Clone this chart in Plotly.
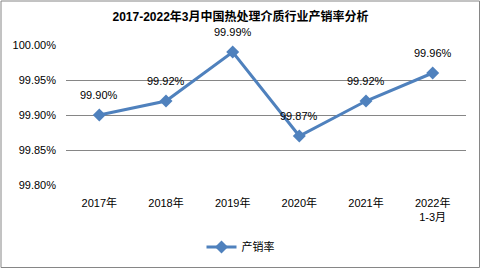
import plotly.graph_objects as go

categories = ["2017年", "2018年", "2019年", "2020年", "2021年", "2022年<br>1-3月"]
values = [99.90, 99.92, 99.99, 99.87, 99.92, 99.96]
labels = ["99.90%", "99.92%", "99.99%", "99.87%", "99.92%", "99.96%"]
tick_vals = [99.80, 99.85, 99.90, 99.95, 100.00]
tick_text = ["99.80%", "99.85%", "99.90%", "99.95%", "100.00%"]

W, H = 481, 269
ml, mr, mt, mb = 66, 15, 45, 84
color = "#4F81BD"
font_fam = "Liberation Sans, Noto Sans CJK SC, sans-serif"

fig = go.Figure()
fig.add_trace(go.Scatter(
    x=list(range(len(categories))), y=values, mode="lines+markers",
    name="产销率", line=dict(color=color, width=3),
    marker=dict(symbol="diamond", size=10, color=color),
))
for i, (v, t) in enumerate(zip(values, labels)):
    fig.add_annotation(x=i, y=v, text=t, showarrow=False, yshift=20,
                       font=dict(size=11, color="#000000", family=font_fam))

pw, ph = W - ml - mr, H - mt - mb
fig.add_shape(type="rect", xref="paper", yref="paper",
              x0=(1 - ml) / pw, x1=(W - 1.5 - ml) / pw,
              y0=-(mb - 1.5) / ph, y1=1 + (mt - 1) / ph,
              line=dict(color="#868686", width=1), fillcolor="rgba(0,0,0,0)")

fig.update_layout(
    width=W, height=H,
    margin=dict(l=ml, r=mr, t=mt, b=mb, autoexpand=False),
    paper_bgcolor="white", plot_bgcolor="white",
    font=dict(family=font_fam, size=11, color="#000000"),
    title=dict(text="<b>2017-2022年3月中国热处理介质行业产销率分析</b>",
               x=0.5, xref="container", xanchor="center",
               y=1 - 17 / H, yref="container", yanchor="middle",
               font=dict(size=12, family="Liberation Sans, Noto Sans CJK SC, sans-serif")),
    xaxis=dict(tickmode="array", tickvals=list(range(len(categories))), ticktext=categories,
               range=[-0.5, len(categories) - 0.5], showgrid=False, zeroline=False,
               showline=False, ticks="", ticklabelstandoff=10, automargin=False),
    yaxis=dict(tickmode="array", tickvals=tick_vals, ticktext=tick_text,
               range=[99.80, 100.00], showgrid=True, gridcolor="#868686", gridwidth=1,
               zeroline=False, showline=False, ticks="", ticklabelstandoff=9, automargin=False),
    showlegend=True,
    legend=dict(orientation="h", x=0.5, xref="container", xanchor="center",
                y=1 - 247 / H, yref="container", yanchor="middle",
                font=dict(size=11)),
)
fig.write_html("out.html")
